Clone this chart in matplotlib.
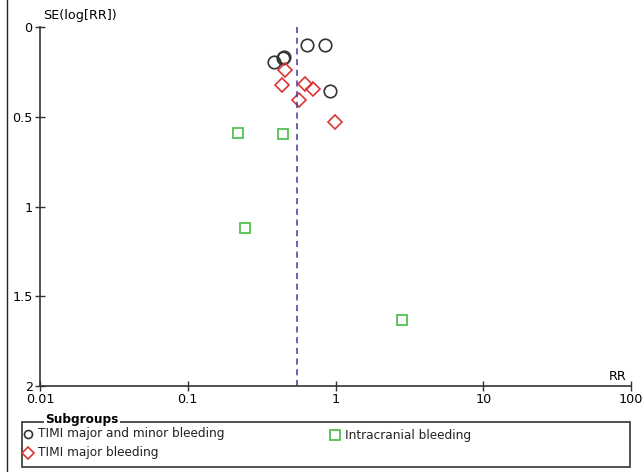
import matplotlib
matplotlib.use('Agg')
import matplotlib.pyplot as plt
from matplotlib.lines import Line2D
from matplotlib.patches import Rectangle

# funnel plot data (RR, SE(log[RR]))
rr_minor = [0.638, 0.849, 0.448, 0.439, 0.383, 0.918]
se_minor = [0.10, 0.10, 0.167, 0.175, 0.195, 0.357]

rr_major = [0.453, 0.436, 0.622, 0.701, 0.569, 0.993]
se_major = [0.24, 0.323, 0.318, 0.345, 0.407, 0.528]

rr_ich = [0.220, 0.443, 0.244, 2.83]
se_ich = [0.589, 0.594, 1.12, 1.632]

pooled_rr = 0.549

labels = ['TIMI major and minor bleeding', 'TIMI major bleeding', 'Intracranial bleeding']

xticks = [0.01, 0.1, 1, 10, 100]
xticklabels = ['0.01', '0.1', '1', '10', '100']
yticks = [0, 0.5, 1, 1.5, 2]
yticklabels = ['0', '0.5', '1', '1.5', '2']

c_minor, c_major, c_ich = '#333333', '#dd3333', '#44bb44'
fs = 8.7

W, H = 644, 472
fig = plt.figure(figsize=(W / 100, H / 100), dpi=100)
ax = fig.add_axes([40 / W, 1 - 386 / H, (631 - 40) / W, (386 - 27) / H])

ax.plot(rr_minor, se_minor, 'o', mfc='none', mec=c_minor, ms=9, mew=1.2, ls='none')
ax.plot(rr_major, se_major, 'D', mfc='none', mec=c_major, ms=7.2, mew=1.2, ls='none')
ax.plot(rr_ich, se_ich, 's', mfc='none', mec=c_ich, ms=7, mew=1.2, ls='none')
ax.axvline(pooled_rr, color='#3a3aaa', ls=(0, (4, 3)), lw=1.1)

ax.set_xscale('log')
ax.set_xlim(0.01, 100)
ax.set_ylim(2, 0)
ax.set_xticks(xticks)
ax.set_xticklabels(xticklabels)
ax.minorticks_off()
ax.set_yticks(yticks)
ax.set_yticklabels(yticklabels)
ax.tick_params(direction='inout', length=7.5, width=1, labelsize=fs + 0.5, color='#333333', pad=1.5)
for s in ['top', 'right']:
    ax.spines[s].set_visible(False)
for s in ['left', 'bottom']:
    ax.spines[s].set_color('#333333')
    ax.spines[s].set_linewidth(1.2)

fig.text(43 / W, 1 - 16 / H, 'SE(log[RR])', fontsize=fs + 0.5, va='center', ha='left')
fig.text(626 / W, 1 - 376 / H, 'RR', fontsize=fs + 0.5, va='center', ha='right')

# left border of the picture
fig.add_artist(Line2D([7 / W, 7 / W], [0, 1], transform=fig.transFigure, color='#222222', lw=1))

# legend box
fig.add_artist(Rectangle((22 / W, 1 - 467 / H), (630 - 22) / W, (467 - 422) / H,
                         transform=fig.transFigure, fill=False, ec='#333333', lw=1.2, zorder=1))
fig.text(45 / W, 1 - 419.5 / H, 'Subgroups', fontsize=fs, fontweight='bold', va='center',
         ha='left', zorder=2, bbox=dict(fc='white', ec='none', pad=1))

leg_items = [
    (28, 434, 'o', c_minor, 5.8, labels[0]),
    (28, 452.5, 'D', c_major, 6.5, labels[1]),
    (335, 435, 's', c_ich, 7.5, labels[2]),
]
for x, y, m, c, ms, lab in leg_items:
    fig.add_artist(Line2D([x / W], [1 - y / H], transform=fig.transFigure, marker=m,
                          mfc='none', mec=c, ms=ms, mew=1.2, ls='none', zorder=3))
    fig.text((x + 10) / W, 1 - y / H, lab, fontsize=fs, va='center', ha='left',
             color='#222222', zorder=3)

fig.savefig('out.png', dpi=100)
